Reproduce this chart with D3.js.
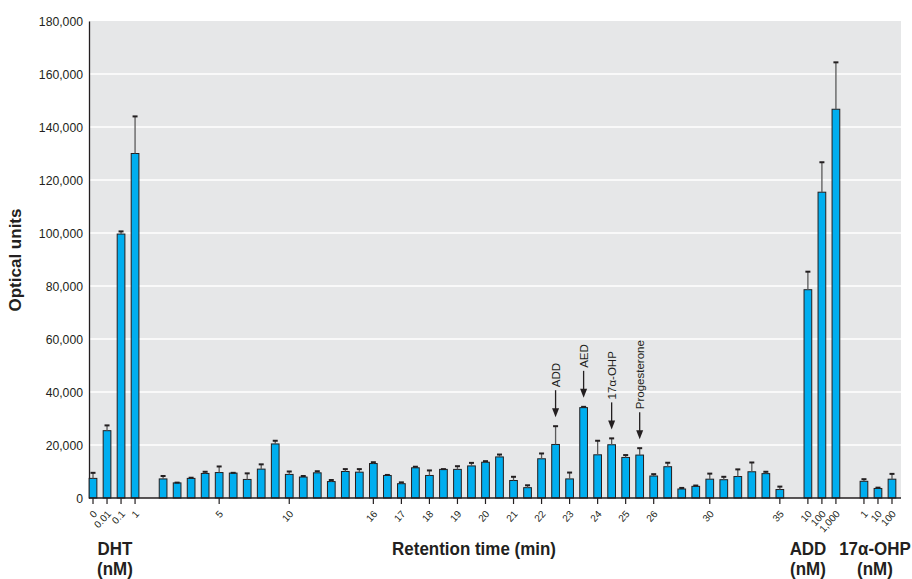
<!DOCTYPE html>
<html><head><meta charset="utf-8">
<script src="https://cdn.jsdelivr.net/npm/d3@7/dist/d3.min.js"></script>
<style>
body{margin:0;background:#fff}
svg{display:block}
text{font-family:'Liberation Sans',Arial,Helvetica,sans-serif;fill:#231f20}
</style>
</head><body><svg id="c" width="912" height="579"></svg>
<script>
// ---- data ----
const dhtLabels = ["0", "0.01", "0.1", "1"];
const dhtValues = [7400, 25400, 99600, 130000];
const dhtErrors = [2100, 2000, 1000, 14000];

const retentionTimes = [1, 2, 3, 4, 5, 6, 7, 8, 9, 10, 11, 12, 13, 14, 15, 16,
  16.5, 17, 17.5, 18, 18.5, 19, 19.5, 20, 20.5, 21, 21.5, 22, 22.5, 23, 23.5,
  24, 24.5, 25, 25.5, 26, 27, 28, 29, 30, 31, 32, 33, 34, 35];
const retentionValues = [7200, 5700, 7400, 9260, 9600, 9400, 7000, 10900, 20400, 8900, 7900, 9500, 6200, 10000, 9750, 13000,
  8500, 5400, 11400, 8500, 10800, 10800, 12100, 13500, 15500, 6600, 3900, 14800, 20200, 7200, 34100,
  16300, 20100, 15300, 16200, 8300, 11800, 3400, 4400, 7100, 6900, 8100, 9900, 9200, 3200];
const retentionErrors = [1100, 100, 250, 640, 2300, 100, 2300, 1800, 1200, 1100, 400, 600, 600, 900, 1150, 500,
  200, 500, 400, 1900, 100, 1200, 1150, 400, 900, 1400, 900, 2000, 6900, 2400, 300,
  5300, 2400, 900, 2600, 700, 1500, 400, 300, 2100, 1100, 2700, 3500, 700, 1100];
const retentionTickLabels = [5, 10, 16, 17, 18, 19, 20, 21, 22, 23, 24, 25, 26, 30, 35];

const addLabels = ["10", "100", "1,000"];
const addValues = [78600, 115400, 146700];
const addErrors = [6800, 11300, 17700];

const ohpLabels = ["1", "10", "100"];
const ohpValues = [6300, 3600, 7100];
const ohpErrors = [800, 300, 2000];

const yTicks = [0, 20000, 40000, 60000, 80000, 100000, 120000, 140000, 160000, 180000];

const annotationTimes = [22.5, 23.5, 24.5, 25.5];
const annotationLabels = ["ADD", "AED", "17α-OHP", "Progesterone"];

// ---- build slots ----
const slots = [];
dhtLabels.forEach((l, i) => slots.push({id: "dht" + i, label: l, value: dhtValues[i], err: dhtErrors[i]}));
slots.push({id: "gap1"});
retentionTimes.forEach((t, i) => slots.push({id: "rt" + t, label: retentionTickLabels.includes(t) ? String(t) : null,
  value: retentionValues[i], err: retentionErrors[i]}));
slots.push({id: "gap2"});
addLabels.forEach((l, i) => slots.push({id: "add" + i, label: l, value: addValues[i], err: addErrors[i]}));
slots.push({id: "gap3"});
ohpLabels.forEach((l, i) => slots.push({id: "ohp" + i, label: l, value: ohpValues[i], err: ohpErrors[i]}));

const svg = d3.select("#c");
const plotL = 89, plotR = 901, baseY = 498;

const x = d3.scaleBand().domain(slots.map(d => d.id)).range([86, 899]).paddingInner(0.45).paddingOuter(0.225);
const y = d3.scaleLinear().domain([0, 180000]).range([baseY, 21]);

// background
svg.append("rect").attr("x", plotL).attr("y", y(180000)).attr("width", plotR - plotL).attr("height", baseY - y(180000)).attr("fill", "#e6e7e8");

// gridlines
svg.append("g").selectAll("line").data(yTicks.filter(v => v > 0 && v < 180000)).join("line")
  .attr("x1", plotL).attr("x2", plotR).attr("y1", d => y(d)).attr("y2", d => y(d))
  .attr("stroke", "#ffffff").attr("stroke-width", 1.6);

// y axis
const yAxis = svg.append("g").attr("transform", `translate(${plotL},0)`)
  .call(d3.axisLeft(y).tickValues(yTicks).tickSize(0).tickSizeOuter(0).tickPadding(6).tickFormat(d3.format(",")));
yAxis.select(".domain").attr("stroke", "#231f20").attr("stroke-width", 1.3);
yAxis.selectAll("text").attr("font-size", 13).style("font-family", null)
  .attr("x", 0).attr("transform", "translate(-6,0) scale(0.94,1)");

// bars
const bars = slots.filter(d => d.value !== undefined);
svg.append("g").selectAll("rect").data(bars).join("rect")
  .attr("x", d => x(d.id)).attr("width", x.bandwidth())
  .attr("y", d => y(d.value)).attr("height", d => baseY - y(d.value))
  .attr("fill", "#00aeef").attr("stroke", "#231f20").attr("stroke-width", 1);

// error bars
const eg = svg.append("g");
eg.selectAll("line.v").data(bars).join("line").attr("class", "v")
  .attr("x1", d => x(d.id) + x.bandwidth() / 2).attr("x2", d => x(d.id) + x.bandwidth() / 2)
  .attr("y1", d => y(d.value)).attr("y2", d => y(d.value + d.err))
  .attr("stroke", "#5a5a5a").attr("stroke-width", 1.3);
eg.selectAll("line.c").data(bars).join("line").attr("class", "c")
  .attr("x1", d => x(d.id) + x.bandwidth() / 2 - 2.5).attr("x2", d => x(d.id) + x.bandwidth() / 2 + 2.5)
  .attr("y1", d => y(d.value + d.err)).attr("y2", d => y(d.value + d.err))
  .attr("stroke", "#231f20").attr("stroke-width", 2);

// x axis
const labeled = slots.filter(d => d.label);
const labelMap = new Map(labeled.map(d => [d.id, d.label]));
const xAxis = svg.append("g").attr("transform", `translate(0,${baseY})`)
  .call(d3.axisBottom(x).tickValues(labeled.map(d => d.id)).tickFormat(id => labelMap.get(id)).tickSize(6).tickSizeOuter(0));
xAxis.select(".domain").remove();
xAxis.selectAll(".tick line").attr("stroke", "#231f20").attr("stroke-width", 1.2);
xAxis.selectAll(".tick text")
  .attr("font-size", 10).style("font-family", null)
  .attr("x", 0).attr("y", 0).attr("dy", "0.35em")
  .attr("text-anchor", "end")
  .attr("transform", "translate(2,14) rotate(-48)");
svg.append("line").attr("x1", plotL).attr("x2", plotR).attr("y1", baseY).attr("y2", baseY)
  .attr("stroke", "#231f20").attr("stroke-width", 1.3);

// annotations
annotationTimes.forEach((t, i) => {
  const d = slots.find(s => s.id === "rt" + t);
  const cx = x(d.id) + x.bandwidth() / 2;
  const capY = y(d.value + d.err);
  const tip = capY - 9;
  const start = tip - 27;
  svg.append("line").attr("x1", cx).attr("x2", cx).attr("y1", start).attr("y2", tip - 6)
    .attr("stroke", "#231f20").attr("stroke-width", 1.3);
  svg.append("path").attr("d", `M${cx - 3.5},${tip - 9}L${cx + 3.5},${tip - 9}L${cx},${tip}Z`).attr("fill", "#231f20");
  svg.append("text").attr("transform", `translate(${cx + 4},${start - 3}) rotate(-90)`)
    .attr("font-size", 11.5).attr("text-anchor", "start").text(annotationLabels[i]);
});

// titles
svg.append("text").attr("transform", "translate(21,260) rotate(-90)").attr("text-anchor", "middle")
  .attr("font-size", 17).attr("font-weight", "bold").text("Optical units");

const groupTitles = [
  {x: 115, l1: "DHT", l2: "(nM)"},
  {x: 474, l1: "Retention time (min)", l2: null},
  {x: 808, l1: "ADD", l2: "(nM)"},
  {x: 875, l1: "17α-OHP", l2: "(nM)"}
];
groupTitles.forEach(g => {
  svg.append("text").attr("transform", `translate(${g.x},555) scale(0.97,1)`).attr("text-anchor", "middle")
    .attr("font-size", 17.5).attr("font-weight", "bold").text(g.l1);
  if (g.l2) svg.append("text").attr("transform", `translate(${g.x},574.5) scale(0.97,1)`).attr("text-anchor", "middle")
    .attr("font-size", 17.5).attr("font-weight", "bold").text(g.l2);
});
</script>
</body></html>
